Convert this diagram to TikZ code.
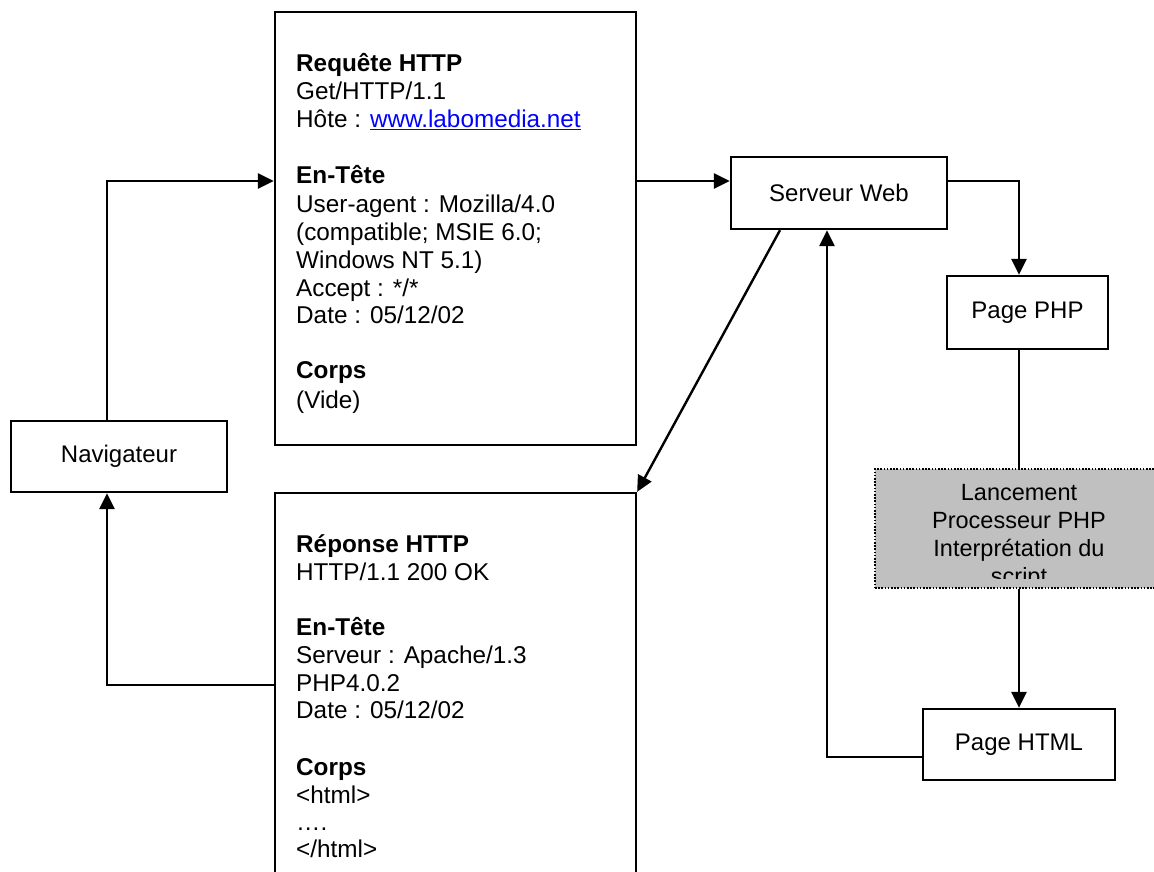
\documentclass[tikz,border=0pt]{standalone}
\usepackage{fontspec}
\setmainfont{Liberation Sans}
\usetikzlibrary{arrows.meta}
\definecolor{linkblue}{RGB}{0,0,255}
\definecolor{procgray}{RGB}{192,192,192}
\tikzset{
  box/.style={draw, line width=2.3pt, rectangle, inner sep=0pt, fill=white, font=\fontsize{24}{28}\selectfont},
  txt/.style={anchor=base west, inner sep=0pt, font=\fontsize{24.3}{28}\selectfont},
  ctxt/.style={anchor=base, inner sep=0pt, font=\fontsize{23.5}{28}\selectfont},
  arr/.style={line width=2.4pt, -{Triangle[length=16pt,width=15pt]}},
  plainline/.style={line width=2.4pt},
  procbox/.style={rectangle, fill=procgray, draw, line width=1.6pt, dash pattern=on 1.6pt off 1.6pt, inner sep=0pt},
}
\begin{document}
\begin{tikzpicture}[x=1pt,y=-1pt]
\useasboundingbox (0,0) rectangle (1154,872);
\clip (0,0) rectangle (1154,872);

% boxes
\node[box, minimum width=361, minimum height=433] (req) at (455.5,228.5) {};
\node[box, minimum width=361, minimum height=440] (rep) at (455.5,713) {};
\node[box, minimum width=216, minimum height=71] (nav) at (119,456.5) {Navigateur};
\node[box, minimum width=216, minimum height=72] (srv) at (839,193) {Serveur Web};
\node[box, minimum width=161, minimum height=73] (php) at (1027.5,312.5) {Page PHP};
\node[procbox, minimum width=288, minimum height=119] (proc) at (1019,528.5) {};
\node[box, minimum width=192, minimum height=71] (html) at (1019,744.5) {Page HTML};

% helper coordinates
\coordinate (c1) at (107,181);
\coordinate (c3) at (1019,0);
\coordinate (c4) at (0,757);
\coordinate (c5) at (827,0);
\coordinate (c6) at (780,0);
\coordinate (c7) at (0,685);

% request text
\node[txt] (q1) at (296,72) {\textbf{Requête HTTP}};
\node[txt] (q2) at (296,100) {Get/HTTP/1.1};
\node[txt] (q3) at (296,128) {Hôte : \textcolor{linkblue}{\underline{www.labomedia.net}}};
\node[txt] (q4) at (296,183) {\textbf{En-Tête}};
\node[txt] (q5) at (296,212) {User-agent : Mozilla/4.0};
\node[txt] (q6) at (296,240) {(compatible; MSIE 6.0;};
\node[txt] (q7) at (296,268) {Windows NT 5.1)};
\node[txt] (q8) at (296,296) {Accept : */*};
\node[txt] (q9) at (296,323) {Date : 05/12/02};
\node[txt] (q10) at (296,378) {\textbf{Corps}};
\node[txt] (q11) at (296,408) {(Vide)};

% response text
\node[txt] (r1) at (296,552) {\textbf{Réponse HTTP}};
\node[txt] (r2) at (296,580) {HTTP/1.1 200 OK};
\node[txt] (r3) at (296,635) {\textbf{En-Tête}};
\node[txt] (r4) at (296,663) {Serveur : Apache/1.3};
\node[txt] (r5) at (296,691) {PHP4.0.2};
\node[txt] (r6) at (296,718) {Date : 05/12/02};
\node[txt] (r7) at (296,775) {\textbf{Corps}};
\node[txt] (r8) at (296,803) {<html>};
\node[txt] (r9) at (296,830) {….};
\node[txt] (r10) at (296,857) {</html>};

% process text, clipped to the box
\begin{scope}
\clip (875,470) rectangle (1154,578);
\node[ctxt] (p1) at (1019,500) {Lancement};
\node[ctxt] (p2) at (1019,528) {Processeur PHP};
\node[ctxt] (p3) at (1019,556) {Interprétation du};
\node[ctxt] (p4) at (1019,584) {script};
\end{scope}

% connectors
\draw[arr] (nav.north -| c1) |- (req.west |- c1);
\draw[arr] (req.east |- c1) -- (srv.west |- c1);
\draw[arr] (srv.east |- c1) -| (c3 |- php.north);
\draw[plainline] (c3 |- php.south) -- (c3 |- proc.north);
\draw[arr] (c3 |- proc.south) -- (c3 |- html.north);
\draw[arr] (html.west |- c4) -| (c5 |- srv.south);
\draw[arr] (c6 |- srv.south) -- (rep.north east);
\draw[arr] (rep.west |- c7) -| (c1 |- nav.south);
\end{tikzpicture}
\end{document}
